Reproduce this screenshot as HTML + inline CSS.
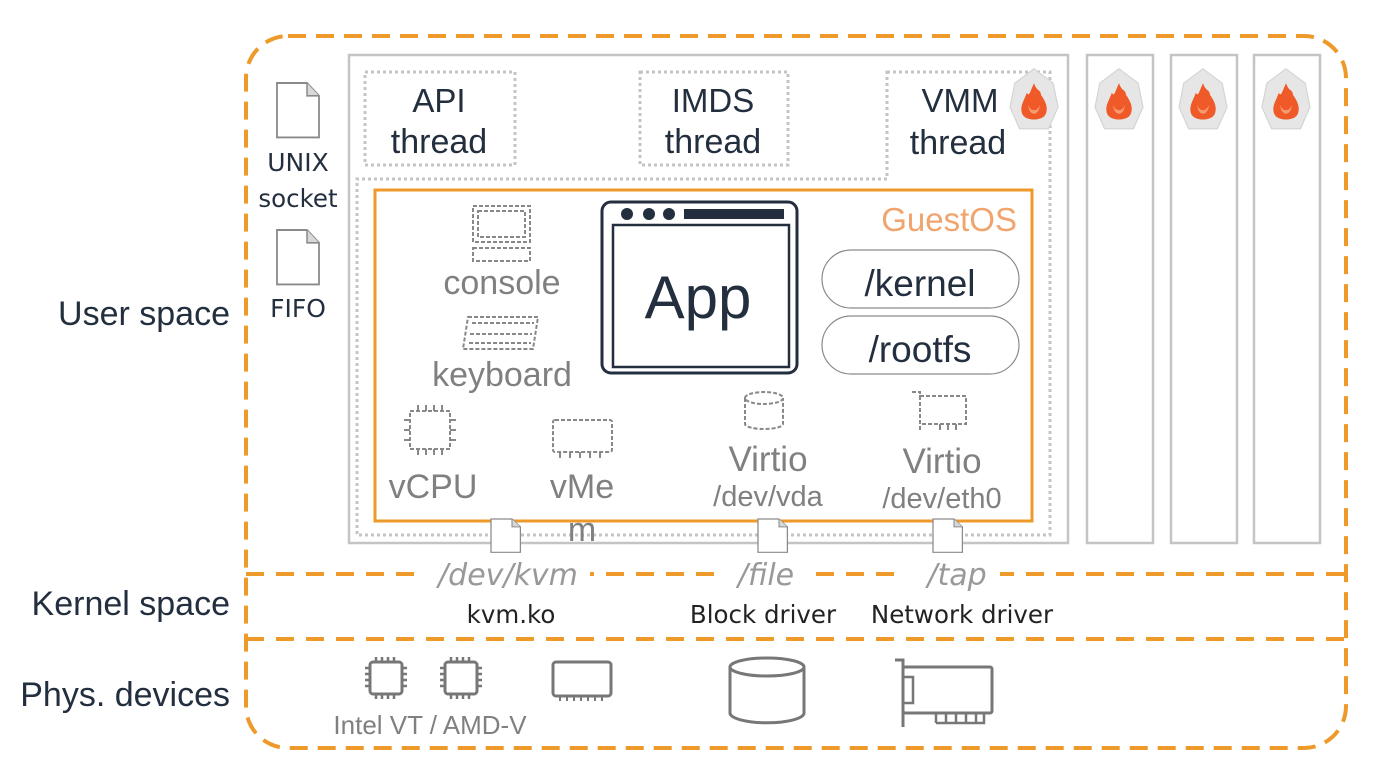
<!DOCTYPE html>
<html><head><meta charset="utf-8"><style>
html,body{margin:0;padding:0;background:#fff;width:1384px;height:779px;overflow:hidden}
svg{display:block}
text{font-family:"Liberation Sans",sans-serif}
.c{font-family:"DejaVu Sans","Liberation Sans",sans-serif}
</style></head><body>
<svg width="1384" height="779" viewBox="0 0 1384 779" xmlns="http://www.w3.org/2000/svg">
<defs>
<g id="flame">
<polygon points="0,-26 16,-14 20,6 12,24 -12,24 -20,6 -16,-14" fill="#e6e6e6" stroke="#d4d4d4" stroke-width="1"/>
<path d="M0,-14 C3,-6 5,-10 6,-4 C9,0 12,6 10,11 C8,18 -8,18 -10,11 C-12,5 -8,0 -6,-6 C-4,-2 -3,-8 0,-14Z" fill="#f05a28"/>
<path d="M-5,4 C-3,10 3,10 5,4 C4,14 -4,14 -5,4Z" fill="#f79a6e"/>
</g>
<g id="doc">
<path d="M0,0 H20 L28,8 V34 H0 Z" fill="#fff" stroke="#8a8a8a" stroke-width="1.2"/>
<path d="M20,0 V8 H28" fill="#d8d8d8" stroke="#8a8a8a" stroke-width="1"/>
</g>
<g id="chip">
<rect x="5" y="5" width="32" height="32" rx="3" fill="none" stroke="#777" stroke-width="3"/>
<path d="M11,0 v5 M17,0 v5 M23,0 v5 M29,0 v5 M11,37 v5 M17,37 v5 M23,37 v5 M29,37 v5 M0,11 h5 M0,17 h5 M0,23 h5 M0,29 h5 M37,11 h5 M37,17 h5 M37,23 h5 M37,29 h5" stroke="#777" stroke-width="2.5"/>
</g>
</defs>

<rect x="246" y="36" width="1100" height="712" rx="42" fill="none" stroke="#ee9a2a" stroke-width="4" stroke-dasharray="18 10"/>
<line x1="246" y1="574" x2="1346" y2="574" stroke="#ee9a2a" stroke-width="4" stroke-dasharray="18 12"/>
<line x1="246" y1="639" x2="1346" y2="639" stroke="#ee9a2a" stroke-width="4" stroke-dasharray="18 12"/>

<rect x="420" y="560" width="170" height="30" fill="#fff"/>
<rect x="722" y="560" width="90" height="30" fill="#fff"/>
<rect x="900" y="560" width="100" height="30" fill="#fff"/>
<text x="508" y="585" font-size="30" font-style="italic" fill="#999" text-anchor="middle" class="c">/dev/kvm</text>
<text x="766" y="585" font-size="30" font-style="italic" fill="#999" text-anchor="middle" class="c">/file</text>
<text x="957" y="585" font-size="30" font-style="italic" fill="#999" text-anchor="middle" class="c">/tap</text>

<text x="511" y="623" font-size="24.5" fill="#222" text-anchor="middle" class="c">kvm.ko</text>
<text x="763" y="623" font-size="24.5" fill="#222" text-anchor="middle" class="c">Block driver</text>
<text x="962" y="623" font-size="24.5" fill="#222" text-anchor="middle" class="c">Network driver</text>

<text x="230" y="325" font-size="34" fill="#232f3e" text-anchor="end">User space</text>
<text x="230" y="615" font-size="34" fill="#232f3e" text-anchor="end">Kernel space</text>
<text x="230" y="706" font-size="34" fill="#232f3e" text-anchor="end">Phys. devices</text>

<use href="#doc" transform="translate(277 83) scale(1.5 1.6)"/>
<use href="#doc" transform="translate(277 230) scale(1.5 1.6)"/>
<text x="298" y="171" font-size="25" fill="#232f3e" text-anchor="middle" class="c">UNIX</text>
<text x="298" y="207" font-size="24.5" fill="#232f3e" text-anchor="middle" class="c">socket</text>
<text x="298" y="317" font-size="25" fill="#232f3e" text-anchor="middle" class="c">FIFO</text>

<rect x="349" y="55" width="719" height="488" fill="none" stroke="#c4c4c4" stroke-width="2.5"/>
<rect x="1087" y="55" width="66" height="488" fill="none" stroke="#c4c4c4" stroke-width="2.5"/>
<rect x="1171" y="55" width="66" height="488" fill="none" stroke="#c4c4c4" stroke-width="2.5"/>
<rect x="1254" y="55" width="66" height="488" fill="none" stroke="#c4c4c4" stroke-width="2.5"/>

<g fill="none" stroke="#c4c4c4" stroke-width="3" stroke-dasharray="3 3">
<rect x="365" y="72" width="150" height="93"/>
<rect x="640" y="72" width="148" height="93"/>
<polygon points="887,72 1050,72 1050,535 357,535 357,179 887,179"/>
</g>
<text x="439" y="112" font-size="33" fill="#232f3e" text-anchor="middle">API</text>
<text x="439" y="153" font-size="34" fill="#232f3e" text-anchor="middle">thread</text>
<text x="713" y="112" font-size="33" fill="#232f3e" text-anchor="middle">IMDS</text>
<text x="713" y="153" font-size="34" fill="#232f3e" text-anchor="middle">thread</text>
<text x="960" y="112" font-size="33" fill="#232f3e" text-anchor="middle">VMM</text>
<text x="958" y="154" font-size="34" fill="#232f3e" text-anchor="middle">thread</text>

<use href="#flame" transform="translate(1034 100) scale(1.2)"/>
<use href="#flame" transform="translate(1119 100) scale(1.2)"/>
<use href="#flame" transform="translate(1203 100) scale(1.2)"/>
<use href="#flame" transform="translate(1286 100) scale(1.2)"/>

<rect x="375" y="190" width="657" height="331" fill="none" stroke="#ee9a2a" stroke-width="3"/>
<text x="1017" y="231" font-size="33" fill="#f0a46e" text-anchor="end">GuestOS</text>

<rect x="602" y="202" width="195" height="171" rx="9" fill="#fff" stroke="#232f3e" stroke-width="3"/>
<rect x="613" y="225" width="176" height="142" fill="none" stroke="#232f3e" stroke-width="2.5"/>
<circle cx="627" cy="214" r="6" fill="#232f3e"/>
<circle cx="649" cy="214" r="6" fill="#232f3e"/>
<circle cx="669" cy="214" r="6" fill="#232f3e"/>
<rect x="684" y="209" width="100" height="10" fill="#232f3e"/>
<text x="698" y="318" font-size="60" fill="#232f3e" text-anchor="middle">App</text>

<rect x="822" y="250" width="197" height="58" rx="29" fill="none" stroke="#8a8a8a" stroke-width="1.2"/>
<rect x="822" y="316" width="197" height="58" rx="29" fill="none" stroke="#8a8a8a" stroke-width="1.2"/>
<text x="920" y="296" font-size="37" fill="#232f3e" text-anchor="middle">/kernel</text>
<text x="920" y="362" font-size="37" fill="#232f3e" text-anchor="middle">/rootfs</text>

<g fill="none" stroke="#888" stroke-width="2" stroke-dasharray="4 2">
<rect x="473" y="206" width="57" height="36"/>
<rect x="478" y="211" width="47" height="26"/>
<rect x="473" y="248" width="57" height="13"/>
<path d="M468,317 h70 l-5,32 h-70 z"/>
<path d="M472,323 h62 M470,334 h62 M469,343 h62"/>
<rect x="410" y="411" width="40" height="38"/>
<rect x="553" y="420" width="59" height="32" rx="2"/>
<path d="M745,398 v26 a19,5 0 0 0 38,0 v-26"/>
<ellipse cx="764" cy="398" rx="19" ry="6"/>
<rect x="920" y="396" width="46" height="28"/>
<path d="M912,392 h8 v38"/>
</g>
<g stroke="#888" stroke-width="2">
<path d="M418,411 v-6 M426,411 v-6 M434,411 v-6 M442,411 v-6 M418,449 v6 M426,449 v6 M434,449 v6 M442,449 v6 M410,420 h-6 M410,430 h-6 M410,440 h-6 M450,420 h6 M450,430 h6 M450,440 h6"/>
<path d="M560,452 v6 M570,452 v6 M580,452 v6 M590,452 v6 M600,452 v6"/>
<path d="M940,424 v6 M948,424 v6 M956,424 v6"/>
</g>

<text x="502" y="294" font-size="34" fill="#808080" text-anchor="middle">console</text>
<text x="502" y="386" font-size="34" fill="#808080" text-anchor="middle">keyboard</text>
<text x="433" y="498" font-size="34" fill="#808080" text-anchor="middle">vCPU</text>
<text x="582" y="498" font-size="34" fill="#808080" text-anchor="middle">vMe</text>
<text x="582" y="541" font-size="34" fill="#808080" text-anchor="middle">m</text>
<text x="768" y="471" font-size="35" fill="#808080" text-anchor="middle">Virtio</text>
<text x="768" y="506" font-size="29" fill="#808080" text-anchor="middle">/dev/vda</text>
<text x="942" y="473" font-size="35" fill="#808080" text-anchor="middle">Virtio</text>
<text x="942" y="508" font-size="29" fill="#808080" text-anchor="middle">/dev/eth0</text>

<use href="#doc" transform="translate(491 519) scale(1.05 0.98)"/>
<use href="#doc" transform="translate(758 519) scale(1.05 0.98)"/>
<use href="#doc" transform="translate(933 519) scale(1.05 0.98)"/>

<use href="#chip" x="365" y="657"/>
<use href="#chip" x="440" y="657"/>
<rect x="553" y="662" width="58" height="34" rx="3" fill="none" stroke="#777" stroke-width="3"/>
<path d="M560,696 v5 M567,696 v5 M574,696 v5 M581,696 v5 M588,696 v5 M595,696 v5 M602,696 v5" stroke="#777" stroke-width="2"/>
<path d="M730,667 v46 a34,9 0 0 0 74,0 v-46" fill="none" stroke="#777" stroke-width="3"/>
<ellipse cx="767" cy="667" rx="37" ry="9" fill="none" stroke="#777" stroke-width="3"/>
<path d="M895,660 h8 v67" fill="none" stroke="#777" stroke-width="3"/>
<rect x="903" y="667" width="89" height="46" rx="2" fill="none" stroke="#777" stroke-width="3"/>
<rect x="903" y="677" width="10" height="26" fill="none" stroke="#777" stroke-width="2.5"/>
<path d="M936,713 v10 M946,713 v10 M956,713 v10 M966,713 v10 M976,713 v10 M936,723 h48 v-10" fill="none" stroke="#777" stroke-width="2.5"/>
<text x="430" y="734" font-size="26" fill="#808080" text-anchor="middle">Intel VT / AMD-V</text>
</svg>
</body></html>
